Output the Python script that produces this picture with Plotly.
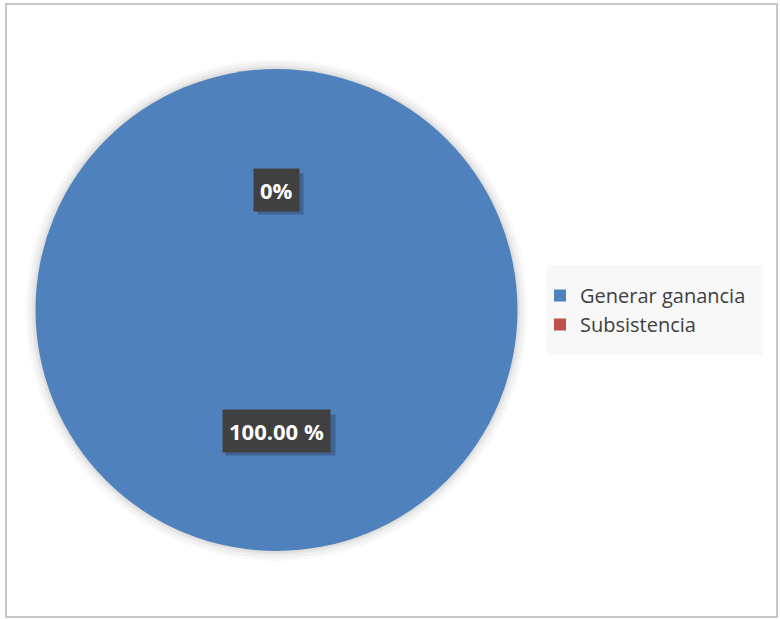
import plotly.graph_objects as go

labels = ["Generar ganancia", "Subsistencia"]
values = [100, 0]
colors = ["#4F81BD", "#C0504D"]
label_texts = ["100.00 %", "0%"]

W, H = 780, 619
CX, CY, R = 276.5, 310, 241

fig = go.Figure()
fig.add_trace(go.Pie(
    labels=labels,
    values=values,
    marker=dict(colors=colors, line=dict(width=0)),
    textinfo="none",
    sort=False,
    direction="clockwise",
    hoverinfo="label+percent",
    domain=dict(x=[(CX - R) / W, (CX + R) / W], y=[(H - CY - R) / H, (H - CY + R) / H]),
    showlegend=True,
))

# data labels
ann_pos = [(276.5, 431), (276.5, 190)]
box_half_w = [55, 23]
annotations = []
shapes = [
    dict(type="rect", xref="paper", yref="paper",
         x0=6 / W, x1=777 / W, y0=1 - 617 / H, y1=1 - 4 / H,
         line=dict(color="#c8c8c8", width=2), fillcolor="white", layer="below"),
    # legend background
    dict(type="rect", xref="paper", yref="paper",
         x0=547 / W, x1=762 / W, y0=1 - 355 / H, y1=1 - 265 / H,
         line=dict(width=0), fillcolor="#f8f8f8", layer="below"),
]
lab_font = dict(family="Open Sans, Liberation Sans, sans-serif", size=22, color="white")
for txt, (px, py), hw in zip(label_texts, ann_pos, box_half_w):
    # drop shadow behind the label box
    shapes.append(dict(type="rect", xref="paper", yref="paper",
                       x0=(px - hw + 4) / W, x1=(px + hw + 4) / W,
                       y0=1 - (py + 20.5 + 4) / H, y1=1 - (py - 20.5 + 4) / H,
                       line=dict(width=0), fillcolor="rgba(0,0,0,0.22)", layer="above"))
    annotations.append(dict(
        x=px / W, y=1 - py / H, xref="paper", yref="paper",
        xanchor="center", yanchor="middle",
        text="<b>" + txt + "</b>", showarrow=False,
        font=lab_font,
        bgcolor="#404040", borderpad=6,
    ))

# soft glow around the pie
for d, a in [(10, 0.025), (7, 0.03), (4, 0.035), (2, 0.04)]:
    shapes.append(dict(type="circle", xref="paper", yref="paper",
                       x0=(CX - R - d) / W, x1=(CX + R + d) / W,
                       y0=1 - (CY + R + d) / H, y1=1 - (CY - R - d) / H,
                       line=dict(width=0), fillcolor="rgba(0,0,0,%s)" % a, layer="below"))

fig.update_layout(
    width=W, height=H,
    margin=dict(l=0, r=0, t=0, b=0),
    paper_bgcolor="white", plot_bgcolor="white",
    annotations=annotations,
    shapes=shapes,
    legend=dict(
        x=540 / W, y=1 - 310 / H, xanchor="left", yanchor="middle",
        bgcolor="rgba(0,0,0,0)", borderwidth=0,
        font=dict(family="Open Sans, Liberation Sans, sans-serif", size=20, color="#404040"),
        itemwidth=30,
    ),
)

fig.write_html("out.html")
